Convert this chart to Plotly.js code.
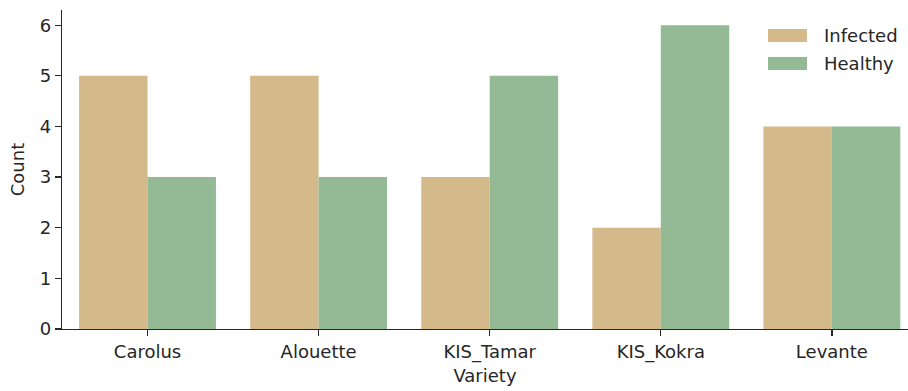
<!DOCTYPE html>
<html>
<head>
<meta charset="utf-8">
<script src="https://cdn.plot.ly/plotly-3.0.1.min.js"></script>
<style>
  html, body { margin: 0; padding: 0; background: #fff; }
  #chart { width: 908px; height: 391px; }
</style>
</head>
<body>
<div id="chart"></div>
<script>
// Plant counts per variety, split by infection status
const varieties = ["Carolus", "Alouette", "KIS_Tamar", "KIS_Kokra", "Levante"];
const infected = [5, 5, 3, 2, 4];
const healthy = [3, 3, 5, 6, 4];
const seriesNames = ["Infected", "Healthy"];
const seriesColors = ["#d4b98b", "#93b995"];
const yTicks = [0, 1, 2, 3, 4, 5, 6];

const W = 908, H = 391;
const m = { l: 62, r: 0, t: 10, b: 62 };
const FONT = "DejaVu Sans, sans-serif";

const xIdx = varieties.map((_, i) => i);
const traces = [infected, healthy].map((vals, k) => ({
  type: "bar",
  x: xIdx,
  y: vals,
  name: seriesNames[k],
  marker: { color: seriesColors[k], line: { width: 0 } },
  hoverinfo: "x+y+name",
  showlegend: false
}));

// Legend drawn as wide colour patches with labels, top right of the plot
const plotW = W - m.l - m.r, plotH = H - m.t - m.b;
const px = x => (x - m.l) / plotW;
const py = y => 1 - (y - m.t) / plotH;
const shapes = [], annotations = [];
seriesNames.forEach((name, k) => {
  const cy = 35.5 + k * 28;
  shapes.push({
    type: "rect", xref: "paper", yref: "paper",
    x0: px(768), x1: px(807), y0: py(cy + 6.5), y1: py(cy - 6.5),
    fillcolor: seriesColors[k], line: { width: 0 }
  });
  annotations.push({
    xref: "paper", yref: "paper", x: px(822), y: py(cy),
    xanchor: "left", yanchor: "middle", showarrow: false,
    text: name, font: { family: FONT, size: 18, color: "#262626" }
  });
});

const layout = {
  width: W, height: H,
  margin: m,
  paper_bgcolor: "#fff", plot_bgcolor: "#fff",
  barmode: "group", bargap: 0.2, bargroupgap: 0,
  font: { family: FONT, size: 18, color: "#262626" },
  xaxis: {
    range: [-0.5, 4.445],
    tickmode: "array", tickvals: xIdx, ticktext: varieties,
    showgrid: false, zeroline: false,
    showline: true, linecolor: "#262626", linewidth: 1.3,
    ticks: "outside", ticklen: 6, tickwidth: 1.3, tickcolor: "#262626",
    tickfont: { family: FONT, size: 18, color: "#262626" },
    title: { text: "Variety", font: { family: FONT, size: 18, color: "#262626" }, standoff: 7 }
  },
  yaxis: {
    range: [0, 6.3],
    tickmode: "array", tickvals: yTicks,
    showgrid: false, zeroline: false,
    showline: true, linecolor: "#262626", linewidth: 1.3,
    ticks: "outside", ticklen: 6, tickwidth: 1.3, tickcolor: "#262626",
    tickfont: { family: FONT, size: 18, color: "#262626" },
    title: { text: "Count", font: { family: FONT, size: 18, color: "#262626" }, standoff: 10 }
  },
  shapes: shapes,
  annotations: annotations
};

Plotly.newPlot("chart", traces, layout, { displayModeBar: false, staticPlot: true });
</script>
</body>
</html>
